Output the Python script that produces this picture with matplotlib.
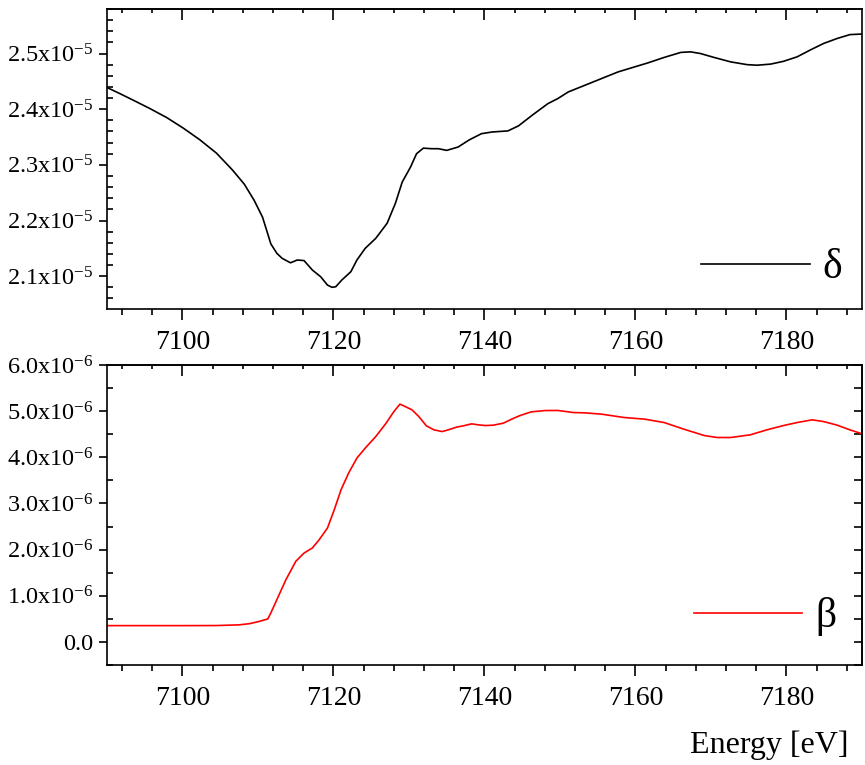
import numpy as np
import matplotlib
matplotlib.use("Agg")
import matplotlib.pyplot as plt
from matplotlib.ticker import MultipleLocator, FuncFormatter

plt.rcParams['font.family'] = ['Liberation Serif', 'DejaVu Serif']
plt.rcParams['mathtext.fontset'] = 'custom'
plt.rcParams['mathtext.rm'] = 'Liberation Serif'
plt.rcParams['mathtext.it'] = 'Liberation Serif'
plt.rcParams['axes.unicode_minus'] = False

# ---- data ----
energy_delta = [7090.0, 7091.7, 7093.5, 7095.7, 7097.9, 7100.1, 7102.3, 7104.5, 7106.6, 7108.2,
                7109.5, 7110.6, 7111.2, 7111.7, 7112.5, 7113.2, 7114.3, 7115.2, 7116.1, 7117.2,
                7118.3, 7119.2, 7119.8, 7120.3, 7121.1, 7122.3, 7123.1, 7124.2, 7125.6, 7127.1,
                7128.2, 7129.1, 7130.2, 7131.0, 7131.9, 7133.0, 7133.9, 7135.0, 7136.5, 7138.0,
                7139.6, 7141.0, 7143.1, 7144.5, 7146.4, 7148.4, 7149.7, 7151.1, 7153.3, 7155.5,
                7157.7, 7159.4, 7161.6, 7163.8, 7166.0, 7167.3, 7168.6, 7170.4, 7172.6, 7174.8,
                7176.1, 7177.9, 7179.6, 7181.4, 7183.1, 7184.9, 7186.7, 7188.4, 7190.0]
delta_e5 = [2.439, 2.428, 2.416, 2.401, 2.385, 2.366, 2.345, 2.321, 2.291, 2.265,
            2.236, 2.206, 2.180, 2.158, 2.141, 2.132, 2.124, 2.129, 2.128, 2.111,
            2.099, 2.084, 2.080, 2.081, 2.093, 2.108, 2.129, 2.150, 2.168, 2.195,
            2.231, 2.269, 2.296, 2.320, 2.330, 2.329, 2.329, 2.326, 2.332, 2.345,
            2.356, 2.359, 2.361, 2.370, 2.390, 2.410, 2.419, 2.431, 2.443, 2.455,
            2.467, 2.474, 2.483, 2.493, 2.502, 2.503, 2.500, 2.493, 2.485, 2.480,
            2.479, 2.481, 2.486, 2.494, 2.506, 2.518, 2.527, 2.534, 2.535]

energy_beta = [7090.0, 7100.0, 7104.5, 7107.5, 7108.9, 7110.2, 7111.3, 7111.7, 7112.6, 7113.7,
               7115.0, 7116.1, 7117.2, 7118.1, 7119.2, 7120.1, 7121.0, 7122.0, 7123.1, 7124.2,
               7125.6, 7126.9, 7128.0, 7128.8, 7129.5, 7130.4, 7131.3, 7132.3, 7133.3, 7134.4,
               7135.2, 7136.3, 7137.2, 7138.3, 7139.2, 7140.1, 7141.2, 7142.5, 7143.6, 7144.7,
               7146.2, 7148.0, 7149.7, 7151.8, 7153.3, 7155.5, 7158.5, 7161.2, 7163.8, 7166.4,
               7169.1, 7170.8, 7172.6, 7175.2, 7177.4, 7179.6, 7181.4, 7183.4, 7184.9, 7186.7,
               7188.4, 7190.0]
beta_e6 = [0.353, 0.353, 0.355, 0.370, 0.396, 0.446, 0.498, 0.628, 0.952, 1.349,
           1.745, 1.926, 2.035, 2.214, 2.468, 2.864, 3.297, 3.658, 3.983, 4.199,
           4.450, 4.725, 4.991, 5.152, 5.100, 5.028, 4.883, 4.682, 4.595, 4.558,
           4.595, 4.654, 4.682, 4.725, 4.703, 4.688, 4.697, 4.740, 4.827, 4.905,
           4.985, 5.013, 5.015, 4.970, 4.963, 4.935, 4.862, 4.827, 4.753, 4.610,
           4.472, 4.429, 4.429, 4.487, 4.595, 4.688, 4.753, 4.812, 4.775, 4.697,
           4.595, 4.510]

delta = np.array(delta_e5) * 1e-5
beta = np.array(beta_e6) * 1e-6

xticks = [7100, 7120, 7140, 7160, 7180]

FSX = 20
FSY = 17.5
fig = plt.figure(figsize=(8.65, 7.65), dpi=100)
L = 107 / 865
W = (862 - 107) / 865
ax1 = fig.add_axes([L, 1 - 309 / 765, W, 300 / 765])
ax2 = fig.add_axes([L, 1 - 665 / 765, W, 300 / 765])


def sci_fmt(v, pos):
    if abs(v) < 1e-12:
        return '0.0'
    exp = int(np.floor(np.log10(abs(v)) + 1e-9))
    mant = v / 10 ** exp
    return r'%.1fx10$^{\mathrm{%d}}$' % (mant, exp)


def style(ax, ymajor, yminor, right_ticks):
    for s in ax.spines.values():
        s.set_linewidth(1.2)
    ax.set_xlim(7090, 7190)
    ax.set_xticks(xticks)
    ax.xaxis.set_minor_locator(MultipleLocator(4))
    ax.tick_params(axis='x', which='both', direction='out', top=False, bottom=True,
                   labelsize=FSX, width=1.2, pad=7)
    ax.tick_params(axis='x', which='major', length=8)
    ax.tick_params(axis='x', which='minor', length=4)
    ax.yaxis.set_major_locator(MultipleLocator(ymajor))
    ax.yaxis.set_minor_locator(MultipleLocator(yminor))
    ax.yaxis.set_major_formatter(FuncFormatter(sci_fmt))
    ax.tick_params(axis='y', which='major', direction='out', length=6, width=1.2,
                   labelsize=FSY, right=False, pad=4)
    ax.tick_params(axis='y', which='minor', direction='in', length=4, width=1.2, right=False)
    sx = ax.secondary_xaxis('top')
    sx.set_xticks(xticks)
    sx.xaxis.set_minor_locator(MultipleLocator(4))
    sx.tick_params(axis='x', which='both', direction='in', labeltop=False, width=1.2)
    sx.tick_params(axis='x', which='major', length=8)
    sx.tick_params(axis='x', which='minor', length=3)
    sx.spines['top'].set_linewidth(1.2)
    if right_ticks is not None:
        sy = ax.secondary_yaxis('right')
        sy.yaxis.set_major_locator(MultipleLocator(right_ticks))
        sy.yaxis.set_minor_locator(MultipleLocator(right_ticks))
        sy.tick_params(axis='y', which='both', direction='in', length=6, width=1.2,
                       labelright=False)
        sy.spines['right'].set_linewidth(1.2)


ax1.plot(energy_delta, delta, color='black', lw=1.2, label='δ')
ax1.set_ylim(2.041e-5, 2.58e-5)
style(ax1, 1e-6, 2e-7, None)

ax2.plot(energy_beta, beta, color='red', lw=1.2, label='β')
ax2.set_ylim(-0.5e-6, 6.0e-6)
style(ax2, 1e-6, 5e-7, 5e-7)

leg_kw = dict(frameon=False, fontsize=30, handlelength=2.6, handletextpad=0.3,
              borderpad=0, borderaxespad=0, loc='center right')
ax1.legend(bbox_to_anchor=((842 - 107) / 755, (309 - 268) / 300), **leg_kw)
ax2.legend(bbox_to_anchor=((836 - 107) / 755, (665 - 617) / 300), **leg_kw)

fig.text(848 / 865, (765 - 753) / 765, 'Energy [eV]', ha='right', va='baseline', fontsize=23)

fig.savefig('out.png', dpi=100)
